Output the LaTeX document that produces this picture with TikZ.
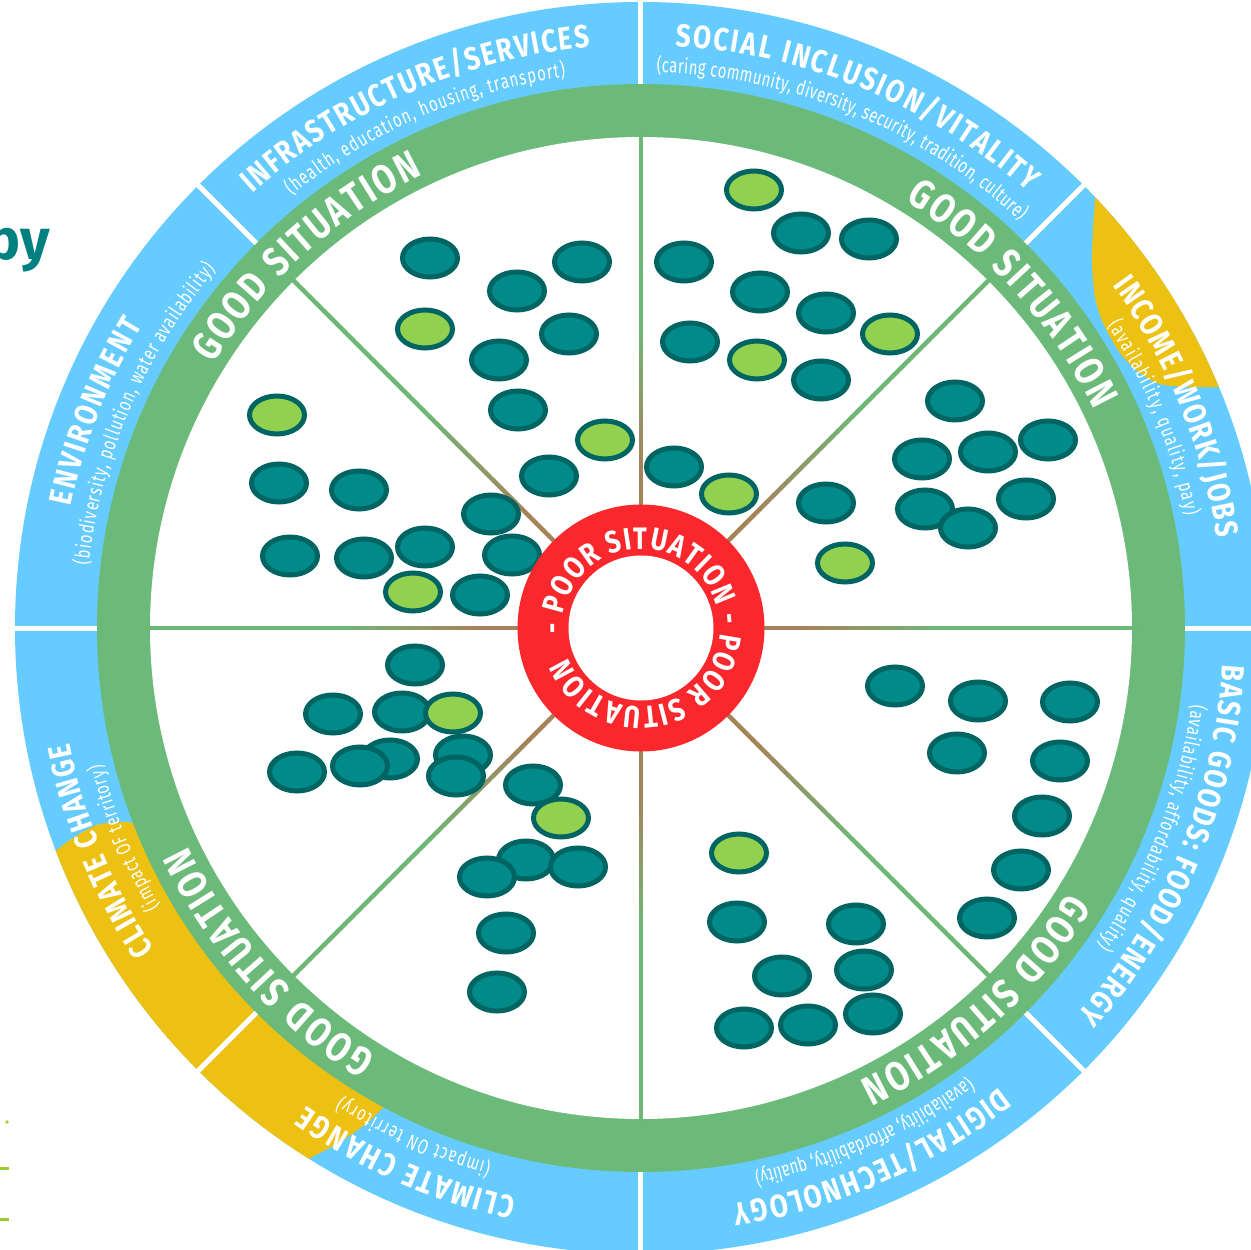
\documentclass[tikz,border=0pt]{standalone}
\usepackage{fontspec}
\usetikzlibrary{decorations.text,shapes.geometric}
\newfontfamily\ecf{Fira Sans}[FakeStretch=0.82]
\newfontfamily\ecg{Fira Sans}[FakeStretch=0.80]
\newfontfamily\ecs{Fira Sans}[FakeStretch=0.72]
\newfontfamily\ecn{Fira Sans}
\definecolor{ringblue}{HTML}{66CCFF}
\definecolor{ringgreen}{HTML}{6BBA79}
\definecolor{ringyellow}{HTML}{EDC111}
\definecolor{ringred}{HTML}{FA282D}
\definecolor{dotteal}{HTML}{008A89}
\definecolor{dotline}{HTML}{006562}
\definecolor{dotlime}{HTML}{92D050}
\definecolor{spkgreen}{HTML}{6DB877}
\definecolor{spkbrown}{HTML}{A5835A}
\definecolor{bytext}{HTML}{00807E}
\definecolor{limemark}{HTML}{9ACD32}
\newcommand\ttlfont{\ecf\bfseries\fontsize{32}{36}\selectfont}
\newcommand\subfont{\ecs\fontsize{20.5}{24}\selectfont}
\newcommand\goodfont{\ecg\bfseries\fontsize{41}{44}\selectfont}
\newcommand\poorfont{\ecf\bfseries\fontsize{31}{34}\selectfont}
\newcommand\ringlabel[5]{\path[decorate,decoration={text along path,text color=white,text align={fit to path},text={|#4|#5}}] (#1:#3) arc[start angle=#1,end angle=#2,radius=#3];}
\tikzset{
  tdot/.style={ellipse, draw=dotline, fill=dotteal, line width=5pt, minimum width=55pt, minimum height=38pt, inner sep=0pt},
  ldot/.style={tdot, fill=dotlime},
  segsep/.style={white, line width=5pt},
  pxscope/.style={xshift=-641pt, yshift=628pt, y=-1pt}
}
\begin{document}
\begin{tikzpicture}[x=1pt,y=1pt]
\useasboundingbox (-641,-622) rectangle (609,628);
\fill[white] (-641,-622) rectangle (609,628);
% outer blue ring
\fill[ringblue] (0,0) circle (626);
% yellow areas
\begin{scope}
  \clip (0,0) circle (626);
  \begin{scope}[pxscope]
    \fill[ringyellow] (1100,150) -- plot[smooth, tension=0.5] coordinates {(1095,200) (1093,230) (1092,263) (1095,297) (1103,323) (1120,353) (1140,373) (1160,384) (1187,387) (1217,387)} -- (1270,390) -- (1270,150) -- cycle;
    \fill[ringyellow] (0,870) -- (20,868) -- plot[smooth, tension=0.5] coordinates {(57,850) (73,838) (97,825) (120,822) (133,823) (150,828)} -- (300,900) -- plot[smooth, tension=0.5] coordinates {(398,1098) (383,1108) (367,1123) (340,1142) (310,1158)} -- (290,1200) -- (0,1250) -- cycle;
  \end{scope}
\end{scope}
% green ring and white disc
\fill[ringgreen] (0,0) circle (544);
\fill[white] (0,0) circle (491);
% white separators in outer ring
\foreach \a in {0,45,...,315}{
  \draw[segsep] ({\a}:544) -- ({\a}:632);
}
% spokes with colour gradient
\foreach \a in {0,45,...,315}{
  \foreach \r in {118,128,...,488}{
    \pgfmathsetmacro\pc{min(100,max(0,(\r-160)/1.4))}
    \draw[line width=4.5pt, spkgreen!\pc!spkbrown] ({\a}:{\r}) -- ({\a}:{\r+10.5});
  }
}
% dots
\begin{scope}[pxscope]
  % upper left sector
  \node[tdot] (d1) at (430,258) {};
  \node[tdot] (d2) at (582,262) {};
  \node[tdot] (d3) at (517,291) {};
  \node[ldot] (d4) at (425,329) {};
  \node[tdot] (d5) at (569,334) {};
  \node[tdot] (d6) at (499,360) {};
  \node[tdot] (d7) at (518,410) {};
  \node[ldot] (d8) at (605,440) {};
  \node[tdot] (d9) at (549,476) {};
  \node[ldot] (d10) at (277,415) {};
  \node[tdot] (d11) at (279,483) {};
  \node[tdot] (d12) at (359,490) {};
  \node[tdot] (d13) at (491,514) {};
  \node[tdot] (d14) at (290,556) {};
  \node[tdot] (d15) at (364,558) {};
  \node[tdot] (d16) at (425,547) {};
  \node[tdot] (d17) at (512,555) {};
  \node[ldot] (d18) at (413,592) {};
  \node[tdot] (d19) at (480,595) {};
  % upper right sector
  \node[ldot] (d20) at (754,190) {};
  \node[tdot] (d21) at (801,233) {};
  \node[tdot] (d22) at (869,239) {};
  \node[tdot] (d23) at (684,262) {};
  \node[tdot] (d24) at (760,292) {};
  \node[tdot] (d25) at (826,313) {};
  \node[ldot] (d26) at (890,334) {};
  \node[tdot] (d27) at (690,342) {};
  \node[ldot] (d28) at (757,360) {};
  \node[tdot] (d29) at (821,380) {};
  \node[tdot] (d30) at (674,467) {};
  \node[ldot] (d31) at (729,494) {};
  \node[tdot] (d32) at (955,401) {};
  \node[tdot] (d33) at (922,459) {};
  \node[tdot] (d34) at (988,452) {};
  \node[tdot] (d35) at (1048,440) {};
  \node[tdot] (d36) at (1026,499) {};
  \node[tdot] (d37) at (925,509) {};
  \node[tdot] (d38) at (968,528) {};
  \node[tdot] (d39) at (826,503) {};
  \node[ldot] (d40) at (845,563) {};
  % lower right sector
  \node[tdot] (d41) at (895,686) {};
  \node[tdot] (d42) at (978,701) {};
  \node[tdot] (d43) at (1070,702) {};
  \node[tdot] (d44) at (957,753) {};
  \node[tdot] (d45) at (1060,761) {};
  \node[tdot] (d46) at (1042,816) {};
  \node[tdot] (d47) at (1021,870) {};
  \node[tdot] (d48) at (987,918) {};
  \node[ldot] (d49) at (739,853) {};
  \node[tdot] (d50) at (737,922) {};
  \node[tdot] (d51) at (856,924) {};
  \node[tdot] (d52) at (864,970) {};
  \node[tdot] (d53) at (782,976) {};
  \node[tdot] (d54) at (744,1028) {};
  \node[tdot] (d55) at (808,1025) {};
  \node[tdot] (d56) at (873,1014) {};
  % lower left sector
  \node[tdot] (d57) at (415,665) {};
  \node[tdot] (d58) at (333,714) {};
  \node[tdot] (d59) at (402,712) {};
  \node[ldot] (d60) at (453,713) {};
  \node[tdot] (d61) at (390,759) {};
  \node[tdot] (d62) at (360,766) {};
  \node[tdot] (d63) at (297,772) {};
  \node[tdot] (d64) at (463,755) {};
  \node[tdot] (d65) at (456,776) {};
  \node[tdot] (d66) at (533,785) {};
  \node[ldot] (d67) at (561,818) {};
  \node[tdot] (d68) at (526,860) {};
  \node[tdot] (d69) at (578,867) {};
  \node[tdot] (d70) at (487,877) {};
  \node[tdot] (d71) at (506,933) {};
  \node[tdot] (d72) at (497,992) {};
  % fragments at the left edge
  \node[anchor=base east, inner sep=0pt, text=bytext, font=\ecn\bfseries\fontsize{57}{60}\selectfont] (by) at (50,260) {by};
  \fill[limemark] (7,1122) circle (1.8);
  \draw[limemark, line width=3pt] (-2,1168) -- (9,1168);
  \draw[limemark, line width=3pt] (-2,1219) -- (9,1219);
\end{scope}
% central red ring
\fill[ringred] (0,0) circle (123.5);
\fill[white] (0,0) circle (72.5);
\ringlabel{184}{-158}{79}{\poorfont}{- POOR SITUATION - POOR SITUATION}
% good situation labels
\ringlabel{148.25}{115.75}{503}{\goodfont}{GOOD SITUATION}
\ringlabel{58.25}{25.75}{503}{\goodfont}{GOOD SITUATION}
\ringlabel{-31.75}{-64.25}{503}{\goodfont}{GOOD SITUATION}
\ringlabel{238.25}{205.75}{503}{\goodfont}{GOOD SITUATION}
% titles
\ringlabel{131.8}{95}{583}{\ttlfont}{INFRASTRUCTURE/SERVICES}
\ringlabel{86.6}{48.4}{583}{\ttlfont}{SOCIAL INCLUSION/VITALITY}
\ringlabel{36}{8.9}{583}{\ttlfont}{INCOME/WORK/JOBS}
\ringlabel{-3.6}{-41.5}{583}{\ttlfont}{BASIC GOODS: FOOD/ENERGY}
\ringlabel{-52}{-81}{583}{\ttlfont}{DIGITAL/TECHNOLOGY}
\ringlabel{-102.3}{-125}{583}{\ttlfont}{CLIMATE CHANGE}
\ringlabel{213.5}{191.4}{583}{\ttlfont}{CLIMATE CHANGE}
\ringlabel{168}{148.7}{583}{\ttlfont}{ENVIRONMENT}
% subtitles
\ringlabel{128.9}{97.8}{556}{\subfont}{(health, education, housing, transport)}
\ringlabel{88.4}{47.1}{556}{\subfont}{(caring community, diversity, security, tradition, culture)}
\ringlabel{33}{11.6}{556}{\subfont}{(availability, quality, pay)}
\ringlabel{-7.9}{-34.8}{556}{\subfont}{(availability, affordability, quality)}
\ringlabel{-54}{-78.2}{556}{\subfont}{(availability, affordability, quality)}
\ringlabel{-105.6}{-122.5}{556}{\subfont}{(impact ON territory)}
\ringlabel{210}{194.2}{556}{\subfont}{(impact OF territory)}
\ringlabel{173.5}{139.9}{556}{\subfont}{(biodiversity, pollution, water availability)}
\end{tikzpicture}
\end{document}
